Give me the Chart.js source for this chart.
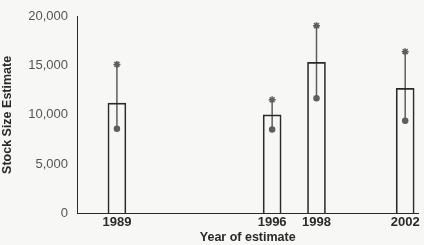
<!DOCTYPE html>
<html>
<head>
<meta charset="utf-8">
<script src="https://cdn.jsdelivr.net/npm/chart.js@4"></script>
<style>
  html, body { margin: 0; padding: 0; background: #f7f7f5; }
  #wrap { width: 424px; height: 245px; }
</style>
</head>
<body>
<div id="wrap"><canvas id="stockChart" width="424" height="245"></canvas></div>
<script>
// Survey years and stock size estimates
const years = [1989, 1996, 1998, 2002];
const estimates = [11200, 10000, 15350, 12700];
const upperBounds = [15150, 11550, 19100, 16450];
const lowerBounds = [8600, 8500, 11700, 9400];
const yTicks = [0, 5000, 10000, 15000, 20000];

const ink = '#2a2a2a';
const markColor = '#5e5e5e';

// one small line dataset per error bar
const errorSets = years.map((yr, i) => ({
    type: 'line',
    data: [{ x: yr, y: upperBounds[i] }, { x: yr, y: lowerBounds[i] }],
    borderColor: markColor,
    borderWidth: 1.5,
    pointStyle: ['star', 'circle'],
    pointRadius: [3.5, 2.5],
    pointBorderColor: markColor,
    pointBackgroundColor: markColor,
    pointBorderWidth: 1.5
}));

const ctx = document.getElementById('stockChart').getContext('2d');
new Chart(ctx, {
    type: 'bar',
    data: {
        datasets: [{
            data: years.map((yr, i) => ({ x: yr, y: estimates[i] })),
            backgroundColor: 'rgba(255,255,255,0)',
            borderColor: ink,
            borderWidth: 1,
            barThickness: 18
        }, ...errorSets]
    },
    options: {
        responsive: false,
        animation: false,
        layout: { padding: { top: 15, right: 0, left: 0, bottom: 0 } },
        plugins: { legend: { display: false }, tooltip: { enabled: false } },
        scales: {
            x: {
                type: 'linear',
                offset: false,
                min: 1987.2,
                max: 2002.6,
                grid: { display: false, drawTicks: false, offset: false },
                border: { color: ink, width: 1 },
                afterBuildTicks: axis => { axis.ticks = years.map(v => ({ value: v })); },
                afterFit: axis => {
                    axis.height = 32;
                    axis.paddingLeft = 0;
                    axis.paddingRight = 0;
                },
                ticks: {
                    padding: 2,
                    color: ink,
                    font: { family: 'Liberation Sans', size: 13, weight: 'bold' },
                    callback: v => String(v)
                },
                title: {
                    display: true,
                    text: 'Year of estimate',
                    color: ink,
                    padding: { top: 0, bottom: 0 },
                    font: { family: 'Liberation Sans', size: 12.5, weight: 'bold' }
                }
            },
            y: {
                min: 0,
                max: 20000,
                grid: { display: false, drawTicks: false },
                border: { color: ink, width: 1 },
                afterBuildTicks: axis => { axis.ticks = yTicks.map(v => ({ value: v })); },
                afterFit: axis => { axis.width = 77; },
                ticks: {
                    padding: 9,
                    color: '#555',
                    font: { family: 'Liberation Sans', size: 13 },
                    callback: v => v.toLocaleString('en-US')
                },
                title: {
                    display: true,
                    text: 'Stock Size Estimate',
                    color: ink,
                    padding: { top: 0, bottom: 0 },
                    font: { family: 'Liberation Sans', size: 12.5, weight: 'bold' }
                }
            }
        }
    }
});
</script>
</body>
</html>
